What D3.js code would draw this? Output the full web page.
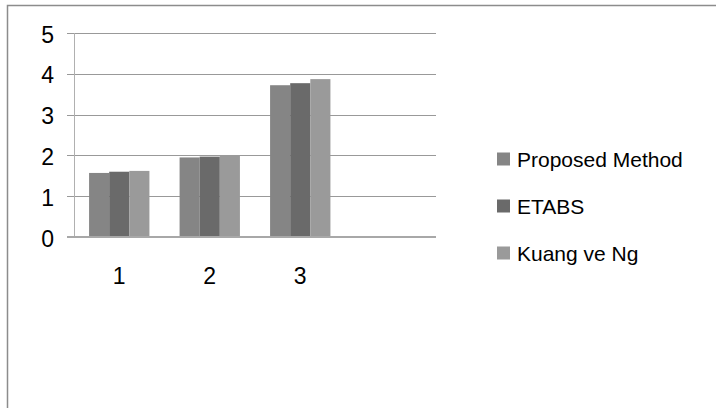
<!DOCTYPE html>
<html>
<head>
<meta charset="utf-8">
<script src="https://cdn.jsdelivr.net/npm/d3@7"></script>
<style>
  html, body { margin: 0; padding: 0; background: #fff; }
  svg { display: block; }
  text { font-family: "Liberation Sans", Arial, sans-serif; fill: #000; }
</style>
</head>
<body>
<svg id="chart" width="716" height="408"></svg>
<script>
// Category labels along the x axis (the fourth slot is empty)
const categories = ["1", "2", "3", ""];
const seriesNames = ["Proposed Method", "ETABS", "Kuang ve Ng"];
const proposedMethod = [1.57, 1.95, 3.72];
const etabs = [1.60, 1.97, 3.77];
const kuangVeNg = [1.62, 2.01, 3.87];
const yTicks = [0, 1, 2, 3, 4, 5];
const seriesColors = ["#858585", "#6a6a6a", "#9a9a9a"];

const series = [proposedMethod, etabs, kuangVeNg];

const svg = d3.select("#chart");

// Outer chart frame (runs past the right and bottom edges)
svg.append("rect")
  .attr("x", 7.5).attr("y", 5.5)
  .attr("width", 800).attr("height", 500)
  .attr("fill", "none")
  .attr("stroke", "#8c8c8c")
  .attr("stroke-width", 1.5);

const plot = { left: 74, right: 436, top: 33, bottom: 237 };

const x = d3.scaleBand()
  .domain(categories.map((c, i) => i))
  .range([plot.left, plot.right])
  .paddingInner(0).paddingOuter(0);

const gap = 1.5; // gap width relative to bar width
const barW = x.bandwidth() / (series.length + gap);
const xs = d3.scaleBand()
  .domain(seriesNames)
  .range([barW * gap / 2, barW * gap / 2 + barW * series.length]);

const y = d3.scaleLinear().domain([0, 5]).range([plot.bottom, plot.top]);

// Gridlines with short outside ticks
const yAxis = d3.axisLeft(y)
  .tickValues(yTicks)
  .tickSize(-(plot.right - plot.left))
  .tickSizeOuter(0)
  .tickFormat("");
const gGrid = svg.append("g")
  .attr("transform", `translate(${plot.left},0)`)
  .call(yAxis);
gGrid.select(".domain").remove();
gGrid.selectAll(".tick line")
  .attr("stroke", "#999")
  .attr("x1", -7)
  .attr("shape-rendering", "crispEdges");

// Vertical axis line
svg.append("line")
  .attr("x1", plot.left + 0.5).attr("x2", plot.left + 0.5)
  .attr("y1", plot.top).attr("y2", plot.bottom)
  .attr("stroke", "#b0b0b0");

// Y tick labels
svg.append("g").selectAll("text")
  .data(yTicks)
  .join("text")
  .attr("x", 54)
  .attr("y", d => y(d))
  .attr("dy", "0.42em")
  .attr("text-anchor", "end")
  .attr("font-size", 23)
  .text(d => d);

// Bars
const groups = svg.append("g").selectAll("g")
  .data(proposedMethod.map((_, i) => i))
  .join("g")
  .attr("transform", i => `translate(${x(i)},0)`);

groups.selectAll("rect")
  .data(i => series.map((s, k) => ({ name: seriesNames[k], value: s[i], k })))
  .join("rect")
  .attr("x", d => xs(d.name))
  .attr("width", xs.bandwidth())
  .attr("y", d => y(d.value))
  .attr("height", d => y(0) - y(d.value))
  .attr("fill", d => seriesColors[d.k]);

// Horizontal axis line
svg.append("line")
  .attr("x1", plot.left - 7).attr("x2", plot.right)
  .attr("y1", plot.bottom).attr("y2", plot.bottom)
  .attr("stroke", "#a8a8a8")
  .attr("stroke-width", 2);

// X category labels
svg.append("g").selectAll("text")
  .data(categories.map((c, i) => ({ c, i })))
  .join("text")
  .attr("x", d => x(d.i) + x.bandwidth() / 2)
  .attr("y", 284)
  .attr("text-anchor", "middle")
  .attr("font-size", 23)
  .text(d => d.c);

// Legend
const legend = svg.append("g").selectAll("g")
  .data(seriesNames)
  .join("g")
  .attr("transform", (d, i) => `translate(497,${159.5 + i * 47})`);
legend.append("rect")
  .attr("x", 0).attr("y", -7)
  .attr("width", 13).attr("height", 13)
  .attr("fill", (d, i) => seriesColors[i]);
legend.append("text")
  .attr("x", 20)
  .attr("y", 0)
  .attr("dy", "0.35em")
  .attr("font-size", 21)
  .text(d => d);
</script>
</body>
</html>
